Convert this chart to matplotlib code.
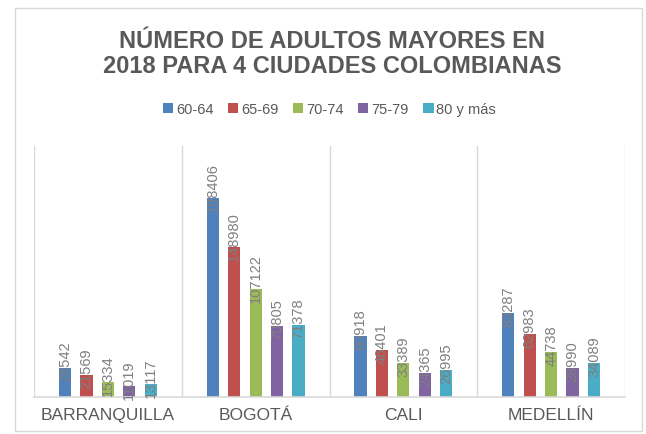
import numpy as np
import matplotlib
matplotlib.use("Agg")
from matplotlib import pyplot as plt
from matplotlib.patches import Rectangle

# datos
ciudades = ["BARRANQUILLA", "BOGOTÁ", "CALI", "MEDELLÍN"]
grupos = ["60-64", "65-69", "70-74", "75-79", "80 y más"]
v_60_64 = [28542, 198406, 60918, 83287]
v_65_69 = [21569, 148980, 46401, 62983]
v_70_74 = [15334, 107122, 33389, 44738]
v_75_79 = [11019, 70805, 24365, 28990]
v_80_mas = [13117, 71378, 26995, 34089]
series = [v_60_64, v_65_69, v_70_74, v_75_79, v_80_mas]
colores = ["#4F81BD", "#C0504D", "#9BBB59", "#8064A2", "#4BACC6"]

plt.rcParams["font.family"] = ["Liberation Sans", "DejaVu Sans"]
gris = "#595959"
linea = "#D9D9D9"

fig = plt.figure(figsize=(6.46, 4.35), dpi=100)
fig.patches.append(Rectangle((15 / 646, 1 - 432 / 435), 627 / 646, 423 / 435,
                             transform=fig.transFigure, fill=False,
                             edgecolor=linea, linewidth=1.0))

ax = fig.add_axes([34 / 646, 1 - 398 / 435, 591 / 646, 251 / 435])

x = np.arange(len(ciudades))
paso = 0.145
ancho = 0.082
for j, (vals, col) in enumerate(zip(series, colores)):
    pos = x + (j - 2) * paso
    ax.bar(pos, vals, ancho, color=col, label=grupos[j], zorder=2)
    for p, v in zip(pos, vals):
        ax.annotate(str(v), (p, v), xytext=(0, -13), textcoords="offset pixels",
                    rotation=90, ha="center", va="bottom", fontsize=10.5,
                    color="#7F7F7F", zorder=3)

ax.set_xlim(-0.5, len(ciudades) - 0.5)
ax.set_ylim(0, 250000)
for b in np.arange(-0.5, len(ciudades), 1):
    ax.axvline(b, color=linea, linewidth=1.0, zorder=1)

for s in ["top", "left", "right"]:
    ax.spines[s].set_visible(False)
ax.spines["bottom"].set_color(linea)
ax.spines["bottom"].set_linewidth(1.2)
ax.set_yticks([])
ax.set_xticks(x)
ax.set_xticklabels(ciudades, fontsize=12.5, color=gris)
ax.tick_params(axis="x", length=0, pad=7)

fig.text(0.514, 1 - 54 / 435, "NÚMERO DE ADULTOS MAYORES EN\n2018 PARA 4 CIUDADES COLOMBIANAS",
         ha="center", va="center", fontsize=17, fontweight="bold", color=gris,
         linespacing=1.1)

fig.legend(loc="center", bbox_to_anchor=(0.51, 1 - 110 / 435), ncol=5, frameon=False,
           fontsize=10.5, labelcolor=gris, handlelength=0.7, handleheight=0.7,
           handletextpad=0.2, columnspacing=1.0)

fig.savefig("out.png", dpi=100)
